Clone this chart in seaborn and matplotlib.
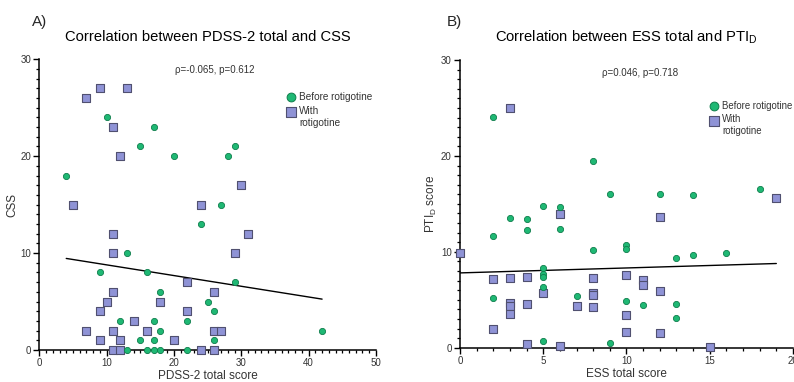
import numpy as np
import pandas as pd
import matplotlib
matplotlib.use("Agg")
import matplotlib.pyplot as plt
from matplotlib.ticker import MultipleLocator
import seaborn as sns

# ---------------- data ----------------
a_before_x = [10, 17, 15, 20, 28, 29, 4, 27, 24, 13, 9, 16, 29, 18, 25, 26,
              12, 17, 22, 18, 42, 15, 17, 26, 13, 16, 17, 18, 22]
a_before_y = [24, 23, 21, 20, 20, 21, 18, 15, 13, 10, 8, 8, 7, 6, 5, 4,
              3, 3, 3, 2, 2, 1, 1, 1, 0, 0, 0, 0, 0]
a_with_x = [7, 9, 13, 11, 12, 30, 5, 24, 11, 31, 11, 29, 22, 11, 26, 10,
            18, 9, 22, 14, 7, 11, 16, 26, 27, 9, 12, 20, 11, 12, 24, 26]
a_with_y = [26, 27, 27, 23, 20, 17, 15, 15, 12, 12, 10, 10, 7, 6, 6, 5,
            5, 4, 4, 3, 2, 2, 2, 2, 2, 1, 1, 1, 0, 0, 0, 0]

b_before_x = [2, 8, 9, 12, 14, 18, 2, 3, 4, 4, 5, 6, 6, 8, 10, 10, 16, 14, 13,
              5, 5, 5, 5, 2, 7, 10, 11, 13, 13, 5, 9]
b_before_y = [24.1, 19.5, 16.0, 16.0, 15.9, 16.5, 11.7, 13.5, 13.4, 12.3, 14.8,
              14.7, 12.4, 10.2, 10.7, 10.3, 9.9, 9.7, 9.4, 8.3, 7.7, 7.4, 6.3,
              5.2, 5.4, 4.9, 4.5, 4.6, 3.1, 0.7, 0.5]
b_with_x = [3, 19, 6, 12, 0, 10, 2, 3, 4, 8, 11, 11, 12, 5, 8, 8, 3, 3, 4, 7,
            8, 3, 10, 2, 10, 12, 4, 6, 15]
b_with_y = [25.0, 15.6, 13.9, 13.6, 9.9, 7.6, 7.2, 7.3, 7.4, 7.3, 7.1, 6.5, 5.9,
            5.7, 5.7, 5.5, 4.7, 4.4, 4.6, 4.4, 4.2, 3.5, 3.4, 1.9, 1.6, 1.5,
            0.4, 0.2, 0.1]

# fitted lines (intercept, slope)
a_fit = [9.89, -0.1105]
b_fit = [7.80, 0.0516]

group_labels = ["Before rotigotine", "With\nrotigotine"]
panel_letters = ["A)", "B)"]
titles = ["Correlation between PDSS-2 total and CSS",
          r"Correlation between ESS total and PTI$_\mathrm{D}$"]
xlabels = ["PDSS-2 total score", "ESS total score"]
ylabels = ["CSS", r"PTI$_\mathrm{D}$ score"]
stats_text = ["\u03c1=-0.065, p=0.612", "\u03c1=0.046, p=0.718"]

# ---------------- style ----------------
sns.set_style("ticks")
plt.rcParams["font.family"] = ["Liberation Sans", "DejaVu Sans"]
plt.rcParams["mathtext.fontset"] = "custom"
plt.rcParams["mathtext.rm"] = "Liberation Sans"
plt.rcParams["mathtext.it"] = "Liberation Sans:italic"
plt.rcParams["mathtext.bf"] = "Liberation Sans:bold"

GREEN = "#1fb874"
GREEN_EDGE = "#0f7d4c"
PURPLE = "#8f93d6"
PURPLE_EDGE = "#505070"
TXT = "#333333"

fig = plt.figure(figsize=(7.94, 3.82), dpi=100)
axA = fig.add_axes([0.0495, 0.0838, 0.424, 0.761])
axB = fig.add_axes([0.5793, 0.0898, 0.4194, 0.753])


def build(df_bx, df_by, df_wx, df_wy):
    d1 = pd.DataFrame({"x": df_bx, "y": df_by, "g": group_labels[0]})
    d2 = pd.DataFrame({"x": df_wx, "y": df_wy, "g": group_labels[1]})
    return d1, d2


panels = [
    (axA, build(a_before_x, a_before_y, a_with_x, a_with_y), a_fit, (0, 50), 10, 0),
    (axB, build(b_before_x, b_before_y, b_with_x, b_with_y), b_fit, (0, 20), 5, 1),
]

leg_pos = [(0.748, 0.870, 0.052), (0.764, 0.841, 0.052)]
leg_fs = [7.2, 6.9]
stat_pos = [(0.522, 0.963), (0.54, 0.955)]

for ax, (d_before, d_with), fit, xlim, xmaj, i in panels:
    sns.scatterplot(data=d_with, x="x", y="y", ax=ax, marker="s", s=34,
                    color=PURPLE, edgecolor=PURPLE_EDGE, linewidth=0.8,
                    clip_on=False, zorder=3, legend=False)
    sns.scatterplot(data=d_before, x="x", y="y", ax=ax, marker="o", s=20,
                    color=GREEN, edgecolor=GREEN_EDGE, linewidth=0.6,
                    clip_on=False, zorder=4, legend=False)
    allx = np.concatenate([d_before["x"].values, d_with["x"].values])
    xs = np.array([allx.min(), allx.max()])
    ax.plot(xs, fit[0] + fit[1] * xs, color="black", lw=1.0, zorder=2)

    ax.set_xlim(*xlim)
    ax.set_ylim(0, 30)
    ax.xaxis.set_major_locator(MultipleLocator(xmaj))
    ax.xaxis.set_minor_locator(MultipleLocator(1))
    ax.yaxis.set_major_locator(MultipleLocator(10))
    ax.yaxis.set_minor_locator(MultipleLocator(1))
    ax.tick_params(which="major", length=4, width=1, labelsize=7,
                   labelcolor=TXT, pad=2, color="black")
    ax.tick_params(which="minor", length=2.5, width=0.9, color="black")
    for s in ["top", "right"]:
        ax.spines[s].set_visible(False)
    for s in ["left", "bottom"]:
        ax.spines[s].set_linewidth(1.1)
        ax.spines[s].set_color("black")

    ax.set_xlabel(xlabels[i], fontsize=8.5, color=TXT, labelpad=1.5)
    ax.set_ylabel(ylabels[i], fontsize=8.5, color=TXT, labelpad=1.5)
    ax.set_title(titles[i], fontsize=10.6, color="black", pad=13)
    ax.text(stat_pos[i][0], stat_pos[i][1], stats_text[i], transform=ax.transAxes,
            ha="center", va="center", fontsize=7, color=TXT)

    # legend
    lx, ly, dy = leg_pos[i]
    ax.scatter([lx], [ly], transform=ax.transAxes, marker="o", s=40,
               color=GREEN, edgecolor=GREEN_EDGE, linewidth=0.7, clip_on=False)
    ax.scatter([lx], [ly - dy], transform=ax.transAxes, marker="s", s=44,
               color=PURPLE, edgecolor=PURPLE_EDGE, linewidth=0.8, clip_on=False)
    ax.text(lx + 0.024, ly, group_labels[0], transform=ax.transAxes,
            ha="left", va="center", fontsize=leg_fs[i], color=TXT)
    ax.text(lx + 0.024, ly - dy + 0.022, group_labels[1], transform=ax.transAxes,
            ha="left", va="top", fontsize=leg_fs[i], color=TXT, linespacing=1.25)

fig.text(32 / 794, 1 - 22 / 382, panel_letters[0], fontsize=11, ha="left", va="center")
fig.text(447 / 794, 1 - 22 / 382, panel_letters[1], fontsize=11, ha="left", va="center")

fig.savefig("out.png", dpi=100)
